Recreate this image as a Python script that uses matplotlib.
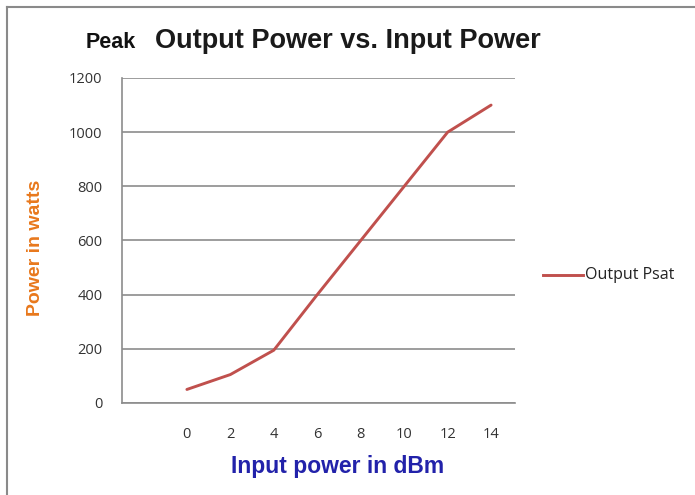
import matplotlib
matplotlib.use("Agg")
import matplotlib.pyplot as plt
from matplotlib.lines import Line2D

input_dbm = [0, 2, 4, 6, 8, 10, 12, 14]
output_psat = [50, 105, 195, 400, 600, 800, 1000, 1100]
y_ticks = [0, 200, 400, 600, 800, 1000, 1200]

fig = plt.figure(figsize=(6.95, 4.95), dpi=100)
fig.patch.set_facecolor("white")

# partial frame (top and left border)
fig.add_artist(Line2D([7/695, 1.0], [1 - 7/495, 1 - 7/495], transform=fig.transFigure,
                      color="#8a8a8a", lw=1.5))
fig.add_artist(Line2D([7/695, 7/695], [0.0, 1 - 7/495], transform=fig.transFigure,
                      color="#8a8a8a", lw=1.5))

ax = fig.add_axes([121.7/695, (495-403)/495, (515-121.7)/695, (403-78)/495])
ax.plot(input_dbm, output_psat, color="#C0504D", lw=2.1, solid_capstyle="round")
ax.set_xlim(-3, 15.1)
ax.set_ylim(0, 1200)
ax.set_xticks(input_dbm)
ax.set_xticklabels([str(v) for v in input_dbm])
ax.set_yticks(y_ticks)
ax.set_yticklabels([str(v) for v in y_ticks])
ax.grid(axis="y", color="#8c8c8c", lw=1.2)
ax.set_axisbelow(True)
for s in ["top", "right"]:
    ax.spines[s].set_visible(False)
for s in ["left", "bottom"]:
    ax.spines[s].set_color("#8c8c8c")
    ax.spines[s].set_linewidth(1.2)
ax.tick_params(axis="both", length=0, labelsize=10.5, labelcolor="#333333")
ax.tick_params(axis="y", pad=14)
ax.tick_params(axis="x", pad=17)
for lab in ax.get_xticklabels() + ax.get_yticklabels():
    lab.set_family(["Open Sans", "DejaVu Sans"])

fig.text(86/695, 1 - 48/495, "Peak", fontsize=15.5, fontweight="bold",
         family="Liberation Sans", va="baseline", ha="left", color="#111111")
fig.text(155/695, 1 - 48/495, "Output Power vs. Input Power", fontsize=19.5, fontweight="bold",
         family="Liberation Sans", va="baseline", ha="left", color="#1a1a1a")

fig.text(35/695, 1 - 248/495, "Power in watts", fontsize=14, fontweight="bold",
         family="Liberation Sans", color="#E8781C", rotation=90, va="center", ha="center")
fig.text(338/695, 1 - 466/495, "Input power in dBm", fontsize=16.5, fontweight="bold",
         family="Liberation Sans", color="#2222AA", va="center", ha="center")

# legend
fig.add_artist(Line2D([543/695, 583/695], [1 - 275/495, 1 - 275/495], transform=fig.transFigure,
                      color="#C0504D", lw=2.1))
fig.text(585/695, 1 - 275/495, "Output Psat", fontsize=11.5, family=["Open Sans", "DejaVu Sans"],
         color="#222222", va="center", ha="left")

fig.savefig("out.png", dpi=100, facecolor="white")
